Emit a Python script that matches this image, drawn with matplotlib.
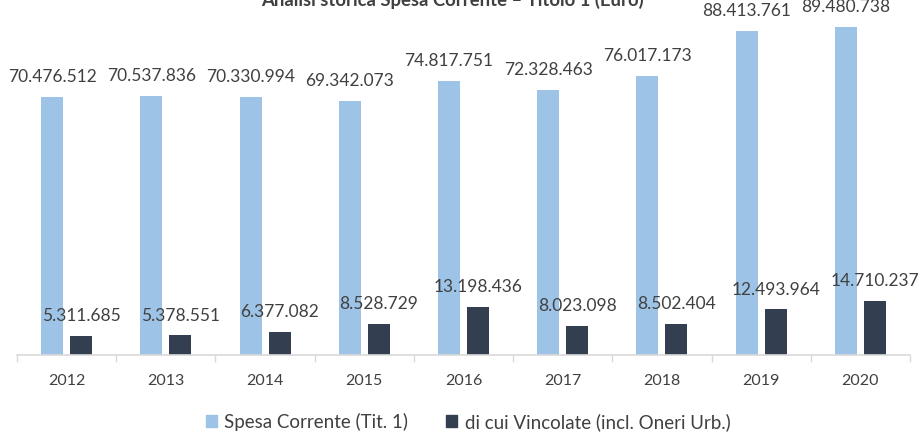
import matplotlib
matplotlib.use("Agg")
import matplotlib.pyplot as plt
from matplotlib.patches import Patch
import numpy as np

years = ["2012", "2013", "2014", "2015", "2016", "2017", "2018", "2019", "2020"]
spesa_corrente = [70476512, 70537836, 70330994, 69342073, 74817751, 72328463, 76017173, 88413761, 89480738]
vincolate = [5311685, 5378551, 6377082, 8528729, 13198436, 8023098, 8502404, 12493964, 14710237]

title = "Analisi storica Spesa Corrente \u2013 Titolo 1 (Euro)"
label_a = "Spesa Corrente (Tit. 1)"
label_b = "di cui Vincolate (incl. Oneri Urb.)"

col_a = "#9DC3E6"
col_b = "#333F50"
txt = "#404040"

plt.rcParams['font.family'] = ['Lato', 'DejaVu Sans']

fig = plt.figure(figsize=(9.2, 4.33), dpi=100)
ax = fig.add_axes([17/920, 78/433, 893/920, 355/433])

x = np.arange(len(years))
w = 0.222
off = 0.146
ax.bar(x - off, spesa_corrente, width=w, color=col_a, zorder=2)
ax.bar(x + off, vincolate, width=w, color=col_b, zorder=2)

fmt = lambda v: f"{v:,}".replace(",", ".")
for xi, v in zip(x, spesa_corrente):
    ax.annotate(fmt(v), (xi - off, v), xytext=(0, 10.8), textcoords="offset points",
                ha="center", va="baseline", fontsize=12.5, color=txt)
for xi, v in zip(x, vincolate):
    ax.annotate(fmt(v), (xi + off, v), xytext=(0, 10.5), textcoords="offset points",
                ha="center", va="baseline", fontsize=12.5, color=txt)

ax.set_xlim(-0.5, len(years) - 0.5)
ax.set_ylim(0, 355 / 3.666 * 1e6)
ax.set_xticks(x)
ax.set_xticklabels(years, fontsize=11.5, color=txt)
ax.tick_params(axis="x", which="major", length=0, pad=14)
ax.set_xticks(np.arange(-0.5, len(years)), minor=True)
ax.tick_params(axis="x", which="minor", length=5, color="#D9D9D9", width=1)
ax.set_yticks([])
for s in ["top", "right", "left"]:
    ax.spines[s].set_visible(False)
ax.spines["bottom"].set_color("#D9D9D9")
ax.spines["bottom"].set_linewidth(1.2)
ax.patch.set_alpha(0)

fig.text(452/920, 1 - 6/433, title, ha="center", va="baseline", fontsize=13.3,
         fontweight="bold", color=txt)

handles = [Patch(color=col_a, label=label_a), Patch(color=col_b, label=label_b)]
fig.legend(handles=handles, loc="center", bbox_to_anchor=(468/920, 1 - 422/433),
           ncol=2, frameon=False, fontsize=13.5, labelcolor=txt,
           handlelength=0.6, handleheight=0.6, handletextpad=0.4, columnspacing=2.0)

fig.savefig("out.png", dpi=100)
